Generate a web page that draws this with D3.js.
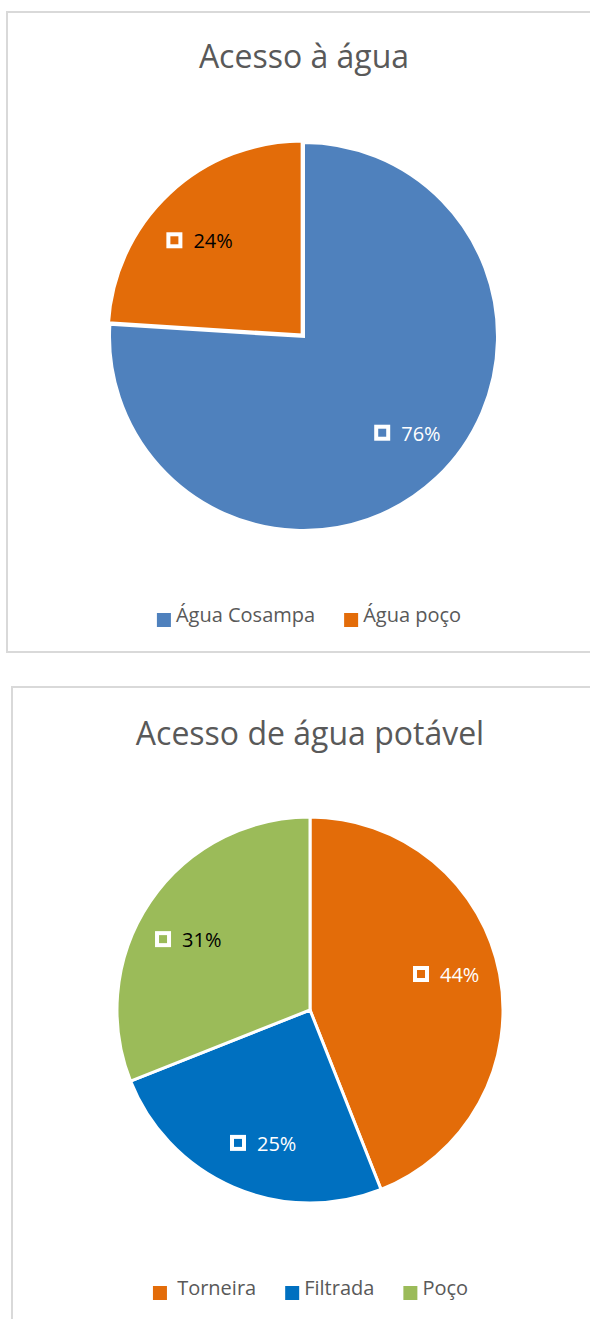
<!DOCTYPE html>
<html><head><meta charset="utf-8">
<script src="https://cdn.jsdelivr.net/npm/d3@7"></script>
<style>html,body{margin:0;padding:0;background:#fff}svg{display:block}text{font-family:"Open Sans",sans-serif}</style>
</head><body><svg id="c" width="590" height="1319"></svg>
<script>
// ---- data ----
const title1 = "Acesso à água";
const categories1 = ["Água Cosampa", "Água poço"];
const values1 = [76, 24];
const colors1 = ["#4F81BD", "#E36C09"];
const labelColors1 = ["#FFFFFF", "#000000"];

const title2 = "Acesso de água potável";
const categories2 = [" Torneira", "Filtrada", "Poço"];
const values2 = [44, 25, 31];
const colors2 = ["#E36C09", "#0070C0", "#9BBB59"];
const labelColors2 = ["#FFFFFF", "#FFFFFF", "#000000"];

// ---- layout ----
const charts = [
  {title: title1, cats: categories1, vals: values1, colors: colors1, lcol: labelColors1,
   frame: {x: 7, y: 12, w: 620, h: 640}, titleX: 304, titleY: 68,
   cx: 303.5, cy: 336.5, r: 194, explode: [0, 2], legendX: 309, legendY: 622},
  {title: title2, cats: categories2, vals: values2, colors: colors2, lcol: labelColors2,
   frame: {x: 12, y: 687, w: 620, h: 700}, titleX: 310, titleY: 745,
   cx: 310, cy: 1010, r: 193, explode: [0, 0, 0], legendX: 310.5, legendY: 1295}
];
const labelRadius = 0.73;          // fraction of radius for data labels
const labelAngleShift = -4 * Math.PI / 180;

const svg = d3.select("#c");
svg.append("rect").attr("width", 590).attr("height", 1319).attr("fill", "#fff");

charts.forEach(ch => {
  const g = svg.append("g");
  g.append("rect")
    .attr("x", ch.frame.x).attr("y", ch.frame.y)
    .attr("width", ch.frame.w).attr("height", ch.frame.h)
    .attr("fill", "#fff").attr("stroke", "#D9D9D9").attr("stroke-width", 2);

  g.append("text").attr("x", ch.titleX).attr("y", ch.titleY)
    .attr("text-anchor", "middle").attr("font-size", 32).attr("fill", "#595959")
    .text(ch.title);

  const pie = d3.pie().sort(null).value(d => d)(ch.vals);
  const arc = d3.arc().innerRadius(0).outerRadius(ch.r);
  const total = d3.sum(ch.vals);

  const pg = g.append("g").attr("transform", `translate(${ch.cx},${ch.cy})`);
  pg.selectAll("path").data(pie).join("path")
    .attr("d", arc)
    .attr("fill", (d, i) => ch.colors[i])
    .attr("stroke", "#fff").attr("stroke-width", 3).attr("stroke-linejoin", "miter")
    .attr("transform", (d, i) => {
      const m = (d.startAngle + d.endAngle) / 2, e = ch.explode[i];
      return `translate(${e * Math.sin(m)},${-e * Math.cos(m)})`;
    });

  // data labels
  const lr = ch.r * labelRadius;
  pie.forEach((d, i) => {
    const m = (d.startAngle + d.endAngle) / 2 + labelAngleShift;
    const px = lr * Math.sin(m), py = -lr * Math.cos(m);
    const lg = pg.append("g");
    const t = lg.append("text").attr("font-size", 20).attr("fill", ch.lcol[i])
      .text(Math.round(d.value / total * 100) + "%");
    const tw = t.node().getComputedTextLength();
    const gw = 16 + 11 + tw;
    const left = px - gw / 2;
    lg.append("rect").attr("x", left + 2).attr("y", py - 6)
      .attr("width", 12).attr("height", 12)
      .attr("fill", "none").attr("stroke", "#fff").attr("stroke-width", 4);
    t.attr("x", left + 27).attr("y", py + 8);
  });

  // legend
  const lgG = g.append("g");
  const items = ch.cats.map((c, i) => {
    const t = lgG.append("text").attr("font-size", 20).attr("fill", "#595959")
      .attr("y", ch.legendY).style("white-space", "pre").text(c);
    return {t, w: t.node().getComputedTextLength(), i};
  });
  const sq = 14, gap1 = 5, gap2 = 29;
  const totalW = d3.sum(items, it => sq + gap1 + it.w) + gap2 * (items.length - 1);
  let x = ch.legendX - totalW / 2;
  items.forEach(it => {
    lgG.append("rect").attr("x", x).attr("y", ch.legendY - 9)
      .attr("width", sq).attr("height", sq).attr("fill", ch.colors[it.i]);
    it.t.attr("x", x + sq + gap1);
    x += sq + gap1 + it.w + gap2;
  });
});
</script></body></html>
